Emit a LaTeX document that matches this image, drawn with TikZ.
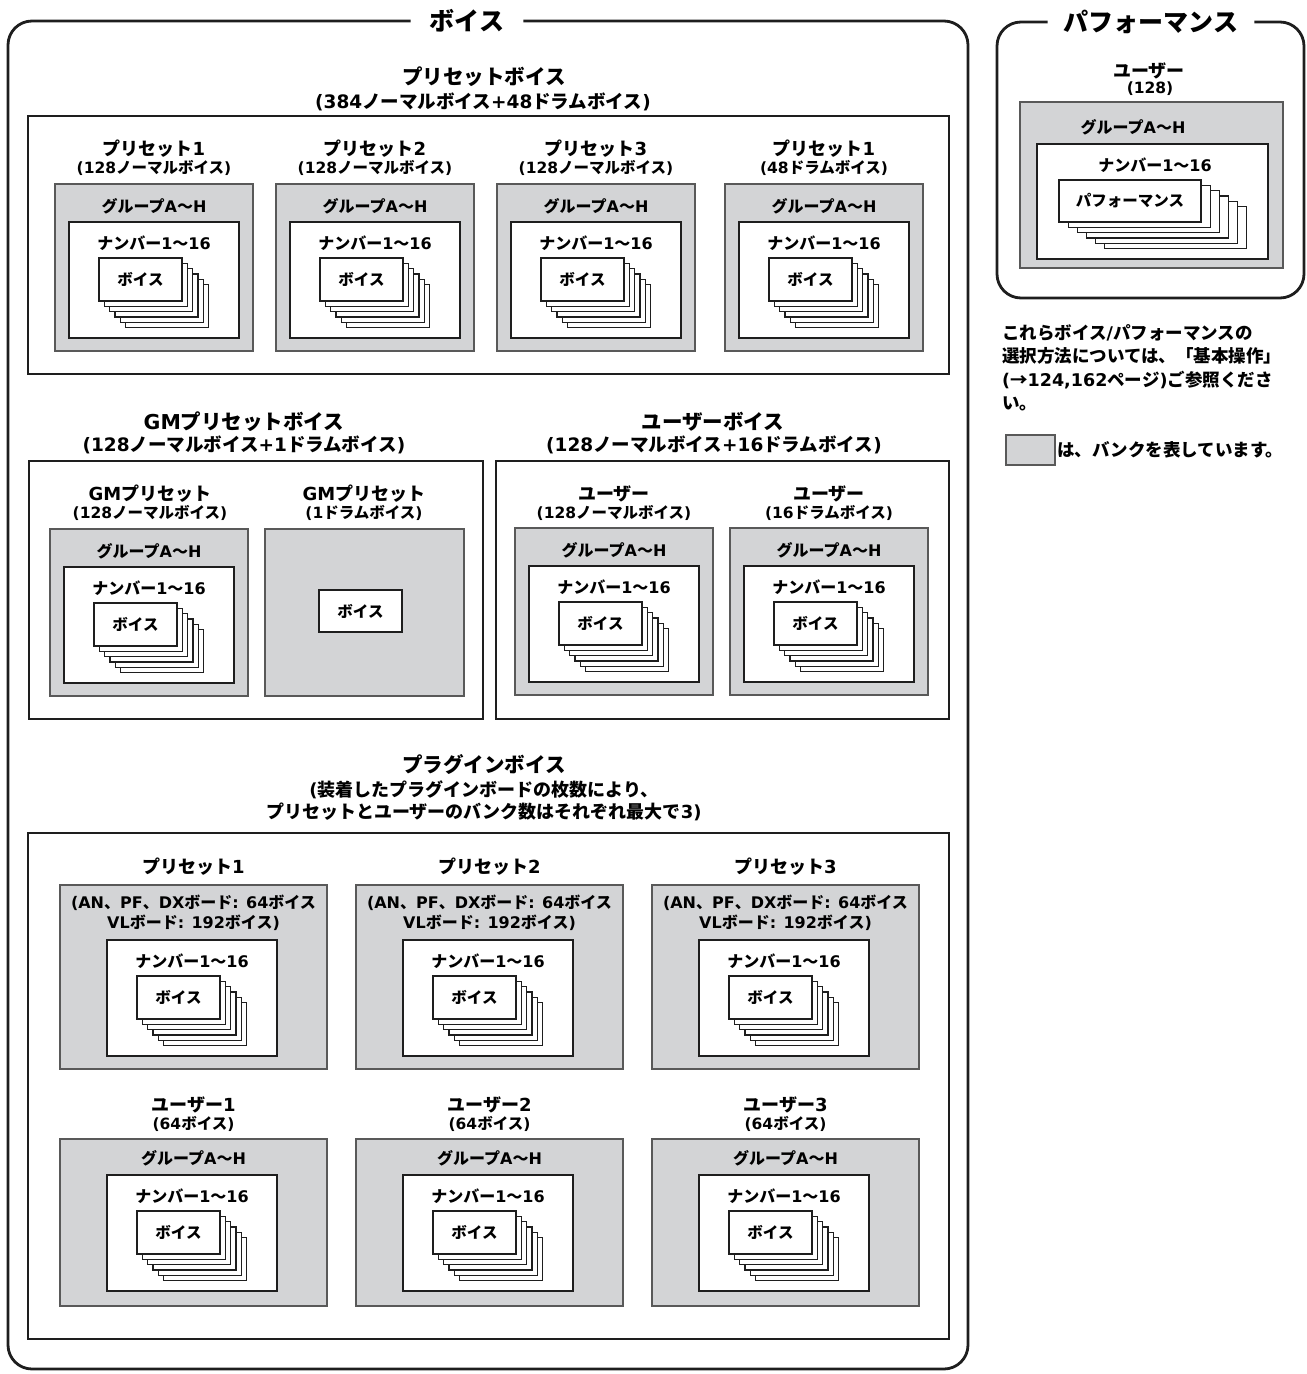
\documentclass[tikz,border=0pt]{standalone}
\usepackage{fontspec}
\setmainfont{Noto Sans CJK JP}
\newfontfamily\dvs{DejaVu Sans}
\newcommand\jpm{\bfseries}
\newcommand\La[1]{{\dvs\bfseries#1}}
\definecolor{bankgray}{RGB}{211,212,214}
\definecolor{ink}{RGB}{30,30,30}
\newcommand\fsz[2]{\fontsize{#1}{#2}\selectfont}
% style, name, x, y, w, h, text
\newcommand\wbox[7]{\node[#1, minimum width=#5pt, minimum height=#6pt, inner sep=0pt, outer sep=0pt] (#2) at ({#3+(#5)/2},{#4+(#6)/2}) {#7};}
% name, x, y, w, h, dx, dy, text
\newcommand\stack[8]{%
  \foreach \i in {5,4,...,1}{\wbox{card}{#1\i}{#2+\i*#6}{#3+\i*#7}{#4}{#5}{}}
  \wbox{card}{#1}{#2}{#3}{#4}{#5}{#8}}
% name, x, y  : white number box with voice stack
\newcommand\numbox[3]{%
  \wbox{wbox}{#1}{#2}{#3}{170}{116}{}
  \node[numlbl] (#1-t) at ({#2+85},{#3+21}) {ナンバー\La{1}〜\La{16}};
  \stack{#1-c}{#2+30}{#3+36}{83}{43}{5.3}{5.3}{ボイス}}
% name, x, y : standard bank 198x167
\newcommand\stdbank[3]{%
  \wbox{bank}{#1}{#2}{#3}{198}{167}{}
  \node[grp] (#1-g) at ({#2+99},{#3+22}) {グループ\La{A}〜\La{H}};
  \numbox{#1-n}{#2+14}{#3+38}}
\begin{document}
\begin{tikzpicture}[x=1pt,y=-1pt,
  frame/.style={draw=ink, line width=2.8pt},
  bank/.style={draw=black!65, line width=1.6pt, fill=bankgray},
  wbox/.style={draw=ink, line width=1.5pt, fill=white},
  card/.style={draw=ink, line width=1.2pt, fill=white, font=\jpm\fsz{15.5}{18}},
  bigtitle/.style={font=\jpm\fsz{25}{30}, inner xsep=19pt, inner ysep=0pt, fill=white},
  sectitle/.style={font=\jpm\fsz{20.5}{24}, inner sep=0pt},
  secsub/.style={font=\jpm\fsz{18.5}{22}, inner sep=0pt},
  blbl/.style={font=\jpm\fsz{18}{21}, inner sep=0pt},
  bsub/.style={font=\jpm\fsz{15.5}{18}, inner sep=0pt},
  grp/.style={font=\jpm\fsz{16}{19}, inner sep=0pt},
  numlbl/.style={font=\jpm\fsz{16}{19}, inner sep=0pt},
  para/.style={font=\jpm\fsz{17.5}{23.5}, inner sep=0pt}]
\useasboundingbox (0,0) rectangle (1307,1374);

% ===== Voice outer frame =====
\node[bigtitle] (vt) at (467,21) {ボイス};
\draw[frame, rounded corners=24pt] (vt.west) -- (8,21) -- (8,1369) -- (968,1369) -- (968,21) -- (vt.east);

% ===== Preset voices =====
\node[sectitle] (pvt) at (484,77) {プリセットボイス};
\node[secsub] (pvs) at (483,102) {\La{(384}ノーマルボイス\La{+48}ドラムボイス\La{)}};
\wbox{frame}{pvf}{28}{116}{921}{258}{}
\node[blbl] (p1l) at (154,149) {プリセット\La{1}};
\node[bsub] (p1s) at (154,168) {\La{(128}ノーマルボイス\La{)}};
\node[blbl] (p2l) at (375,149) {プリセット\La{2}};
\node[bsub] (p2s) at (375,168) {\La{(128}ノーマルボイス\La{)}};
\node[blbl] (p3l) at (596,149) {プリセット\La{3}};
\node[bsub] (p3s) at (596,168) {\La{(128}ノーマルボイス\La{)}};
\node[blbl] (p4l) at (824,149) {プリセット\La{1}};
\node[bsub] (p4s) at (824,168) {\La{(48}ドラムボイス\La{)}};
\stdbank{pb1}{55}{184}
\stdbank{pb2}{276}{184}
\stdbank{pb3}{497}{184}
\stdbank{pb4}{725}{184}

% ===== GM preset voices =====
\node[sectitle] (gmt) at (244,422) {\La{GM}プリセットボイス};
\node[secsub] (gms) at (244,445) {\La{(128}ノーマルボイス\La{+1}ドラムボイス\La{)}};
\wbox{frame}{gmf}{29}{461}{454}{258}{}
\node[blbl] (g1l) at (150,494) {\La{GM}プリセット};
\node[bsub] (g1s) at (150,513) {\La{(128}ノーマルボイス\La{)}};
\node[blbl] (g2l) at (364,494) {\La{GM}プリセット};
\node[bsub] (g2s) at (364,513) {\La{(1}ドラムボイス\La{)}};
\stdbank{gb1}{50}{529}
\wbox{bank}{gb2}{265}{529}{199}{167}{}
\wbox{card}{gb2v}{319}{590}{83}{42}{ボイス}

% ===== User voices =====
\node[sectitle] (uvt) at (713,422) {ユーザーボイス};
\node[secsub] (uvs) at (714,445) {\La{(128}ノーマルボイス\La{+16}ドラムボイス\La{)}};
\wbox{frame}{uvf}{496}{461}{453}{258}{}
\node[blbl] (u1l) at (614,494) {ユーザー};
\node[bsub] (u1s) at (614,513) {\La{(128}ノーマルボイス\La{)}};
\node[blbl] (u2l) at (829,494) {ユーザー};
\node[bsub] (u2s) at (829,513) {\La{(16}ドラムボイス\La{)}};
\stdbank{ub1}{515}{528}
\stdbank{ub2}{730}{528}

% ===== Plug-in voices =====
\node[sectitle] (plt) at (484,765) {プラグインボイス};
\node[secsub, align=center, font=\jpm\fsz{18}{22.5}] (pls) at (484,801) {\La{(}装着したプラグインボードの枚数により、\\プリセットとユーザーのバンク数はそれぞれ最大で\La{3)}};
\wbox{frame}{plf}{28}{833}{921}{506}{}
\foreach \n/\x in {1/60,2/356,3/652}{
  \node[blbl] (qp\n l) at ({\x+133.5},867) {プリセット\La{\n}};
  \wbox{bank}{qp\n}{\x}{885}{267}{184}{}
  \node[grp, align=center, font=\jpm\fsz{16}{20}] (qp\n t) at ({\x+133.5},913) {\La{(AN}、\La{PF}、\La{DX}ボード\La{: 64}ボイス\\\La{VL}ボード\La{: 192}ボイス\La{)}};
  \numbox{qp\n n}{\x+47}{940}
  \node[blbl] (qu\n l) at ({\x+133.5},1105) {ユーザー\La{\n}};
  \node[bsub] (qu\n s) at ({\x+133.5},1124) {\La{(64}ボイス\La{)}};
  \wbox{bank}{qu\n}{\x}{1139}{267}{167}{}
  \node[grp] (qu\n g) at ({\x+133.5},1158) {グループ\La{A}〜\La{H}};
  \numbox{qu\n n}{\x+47}{1175}
}

% ===== Performance =====
\node[bigtitle, inner xsep=16pt] (pt) at (1151,22) {パフォーマンス};
\draw[frame, rounded corners=24pt] (pt.west) -- (997,22) -- (997,298) -- (1304,298) -- (1304,22) -- (pt.east);
\node[blbl] (pfu) at (1149,71) {ユーザー};
\node[bsub] (pfs) at (1150,89) {\La{(128)}};
\wbox{bank}{pfb}{1020}{102}{263}{166}{}
\node[grp] (pfg) at (1133,127) {グループ\La{A}〜\La{H}};
\wbox{wbox}{pfw}{1037}{144}{231}{115}{}
\node[numlbl] (pfn) at (1155,165) {ナンバー\La{1}〜\La{16}};
\stack{pfc}{1059}{180}{142}{42}{9.1}{5.3}{パフォーマンス}

% ===== Notes =====
\node[para, anchor=north west, align=left] (note) at (1002,324) {これらボイス\La{/}パフォーマンスの\\選択方法については、「基本操作」\\\La{(}→\La{124,162}ページ\La{)}ご参照くださ\\い。};
\wbox{bank}{leg}{1006}{435}{49}{30}{}
\node[para, anchor=west] (legt) at (1057,450) {は、バンクを表しています。};
\end{tikzpicture}
\end{document}
